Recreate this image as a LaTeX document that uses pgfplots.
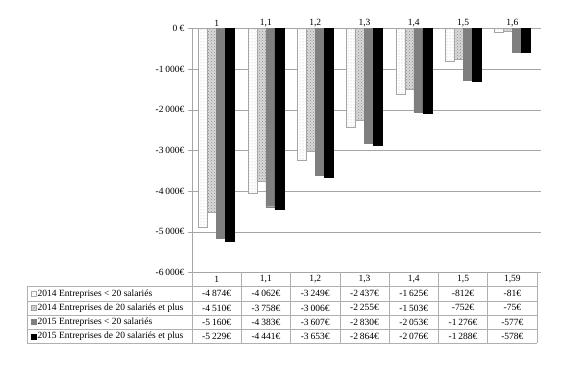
\documentclass[border=0pt]{standalone}
\usepackage{fontspec}
\setmainfont{Liberation Serif}
\usepackage{pgfplots}
\pgfplotsset{compat=1.18}
\usetikzlibrary{patterns}
\definecolor{gridc}{HTML}{A6A6A6}
\definecolor{tblc}{HTML}{B0B0B0}
\definecolor{midg}{HTML}{7F7F7F}
\newcommand\ts{\kern0.2em}
\tikzset{
  s1/.style={draw=gray!70, fill=white, postaction={pattern=dots, pattern color=gray!55}},
  s2/.style={draw=gray!70, fill=gray!30, postaction={pattern=crosshatch dots, pattern color=gray!90}},
  s3/.style={draw=midg, fill=midg},
  s4/.style={draw=black, fill=black},
}
\begin{document}
\begin{tikzpicture}[x=1pt,y=1pt,font=\fontsize{9.5}{11}\selectfont]
\path[use as bounding box] (0,0) rectangle (576,366);
\begin{axis}[
  at={(192pt,93.5pt)}, anchor=south west,
  scale only axis, width=345pt, height=244pt,
  xmin=-0.5, xmax=6.5, ymin=-6000, ymax=0,
  ybar=0pt, bar width=9pt,
  axis line style={draw=none},
  xtick={0,...,6},
  xticklabels={1,{1,1},{1,2},{1,3},{1,4},{1,5},{1,6}},
  xticklabel pos=upper,
  x tick style={draw=none},
  xticklabel style={yshift=-6pt},
  ytick={-6000,-5000,...,0},
  yticklabels={-6\ts000€,-5\ts000€,-4\ts000€,-3\ts000€,-2\ts000€,-1\ts000€,0 €},
  y tick style={draw=gridc},
  tick align=outside, major tick length=4pt,
  ymajorgrids, grid style={gridc, line width=0.6pt},
  tick label style={font=\fontsize{9.5}{11}\selectfont},
  clip=false,
]
\addplot[s1] coordinates {(0,-4874) (1,-4062) (2,-3249) (3,-2437) (4,-1625) (5,-812) (6,-81)};
\addplot[s2] coordinates {(0,-4510) (1,-3758) (2,-3006) (3,-2255) (4,-1503) (5,-752) (6,-75)};
\addplot[s3] coordinates {(0,-5160) (1,-4383) (2,-3607) (3,-2830) (4,-2053) (5,-1276) (6,-577)};
\addplot[s4] coordinates {(0,-5229) (1,-4441) (2,-3653) (3,-2864) (4,-2076) (5,-1288) (6,-578)};
\draw[gridc, line width=0.6pt] (axis cs:-0.5,-6000) -- (axis cs:-0.5,0);
\end{axis}
% data table
\def\rh{14.16}
\def\cw{49.2857}
\foreach \k in {1,...,5} {\draw[tblc, line width=0.6pt] (27,{93.5-\k*\rh}) -- (537,{93.5-\k*\rh});}
\draw[tblc, line width=0.6pt] (27,{93.5-\rh}) -- (27,{93.5-5*\rh});
\foreach \k in {0,...,7} {\draw[tblc, line width=0.6pt] ({192+\k*\cw},93.5) -- ({192+\k*\cw},{93.5-5*\rh});}
\foreach \v [count=\c from 0] in {1,{1,1},{1,2},{1,3},{1,4},{1,5},{1,59}}
  {\node at ({192+\c*\cw+\cw/2},{93.5-0.5*\rh}) {\v};}
\foreach \v [count=\c from 0] in {-4\ts874€,-4\ts062€,-3\ts249€,-2\ts437€,-1\ts625€,-812€,-81€}
  {\node at ({192+\c*\cw+\cw/2},{93.5-1.5*\rh}) {\v};}
\foreach \v [count=\c from 0] in {-4\ts510€,-3\ts758€,-3\ts006€,-2\ts255€,-1\ts503€,-752€,-75€}
  {\node at ({192+\c*\cw+\cw/2},{93.5-2.5*\rh}) {\v};}
\foreach \v [count=\c from 0] in {-5\ts160€,-4\ts383€,-3\ts607€,-2\ts830€,-2\ts053€,-1\ts276€,-577€}
  {\node at ({192+\c*\cw+\cw/2},{93.5-3.5*\rh}) {\v};}
\foreach \v [count=\c from 0] in {-5\ts229€,-4\ts441€,-3\ts653€,-2\ts864€,-2\ts076€,-1\ts288€,-578€}
  {\node at ({192+\c*\cw+\cw/2},{93.5-4.5*\rh}) {\v};}
% legend keys
\foreach \s/\t [count=\i] in {s1/{2014 Entreprises < 20 salariés},s2/{2014 Entreprises de 20 salariés et plus},s3/{2015 Entreprises < 20 salariés},s4/{2015 Entreprises de 20 salariés et plus}} {
  \draw[\s] (31,{93.5-(\i+0.5)*\rh-2.5}) rectangle (36,{93.5-(\i+0.5)*\rh+2.5});
  \node[anchor=west, inner sep=0pt] at (37.5,{93.5-(\i+0.5)*\rh}) {\t};
}
\end{tikzpicture}
\end{document}
